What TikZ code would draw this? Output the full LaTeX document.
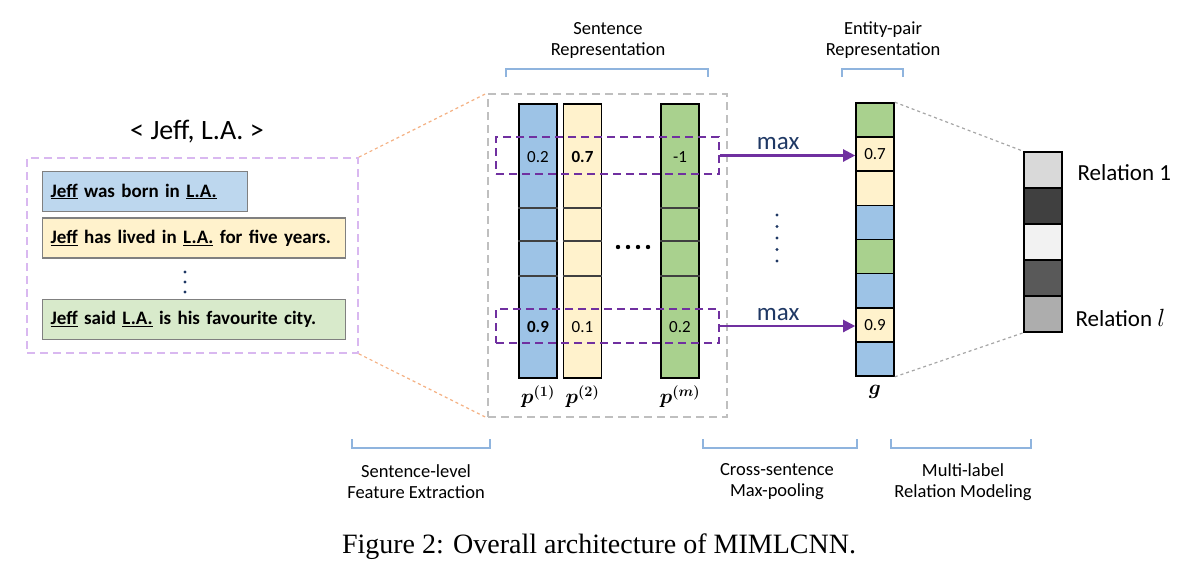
\documentclass[tikz,border=0pt]{standalone}
\usepackage{fontspec}
\usepackage{bm}
\setmainfont{Carlito}
\newfontfamily\capfont{Liberation Serif}
\usetikzlibrary{positioning,arrows.meta}

\definecolor{cblue}{HTML}{9DC3E6}
\definecolor{cyellow}{HTML}{FFF2CC}
\definecolor{cgreen}{HTML}{A9D18E}
\definecolor{sblue}{HTML}{BDD7EE}
\definecolor{sgreen}{HTML}{D8EACB}
\definecolor{mpurple}{HTML}{7030A0}
\definecolor{lavender}{HTML}{D9B8F0}
\definecolor{lorange}{HTML}{F4B183}
\definecolor{brkblue}{HTML}{8FB4DE}
\definecolor{darkblue}{HTML}{1F3864}

\tikzset{
  lbl/.style={font=\fontsize{18.5}{21}\selectfont, align=center},
  sent/.style={draw=gray, line width=1.3pt, anchor=west, inner xsep=8pt, inner ysep=0pt,
    minimum height=40, align=left, font=\fontsize{19}{22}\selectfont\bfseries},
  vec/.style={draw=black, line width=1.6pt, minimum width=38, inner sep=0pt},
  num/.style={font=\fontsize{17}{20}\selectfont},
  rowbox/.style={draw=mpurple, dashed, dash pattern=on 8pt off 5pt, line width=1.8pt, inner sep=0pt},
  maxarr/.style={draw=mpurple, line width=2.2pt, -{Triangle[length=12pt,width=12pt]}},
  brk/.style={draw=brkblue, line width=1.2pt},
}

\begin{document}
\begin{tikzpicture}[x=1pt,y=-1pt]
\useasboundingbox (0,0) rectangle (1188,568);

% sentences of the bag
\node[font=\fontsize{28}{32}\selectfont] (pair) at (197,132) {< Jeff, L.A. >};
\node[draw=lavender, dashed, dash pattern=on 8pt off 5pt, line width=1.8pt,
  minimum width=331, minimum height=195] (bag) at (192.5,255.5) {};
\node[sent, fill=sblue, text width=189] (s1) at (42,191.5) {\underline{Jeff} was born in \underline{L.A.}};
\node[sent, fill=cyellow, text width=287] (s2) at (42,238) {\underline{Jeff} has lived in \underline{L.A.} for five years.};
\node[sent, fill=sgreen, text width=287] (s3) at (42,319.5) {\underline{Jeff} said \underline{L.A.} is his favourite city.};
\foreach \yy in {272,282,292} \fill[darkblue] (185,\yy) circle (1.7);

% sentence representation
\node[draw=black!25, dashed, dash pattern=on 8pt off 5pt, line width=1.8pt,
  minimum width=239, minimum height=323] (feat) at (607.5,255.5) {};
\draw[lorange, dashed, line width=1.2pt] (bag.north east) -- (feat.north west);
\draw[lorange, dashed, line width=1.2pt] (bag.south east) -- (feat.south west);

\node[vec, fill=cblue, minimum height=274] (p1) at (538,241) {};
\node[vec, fill=cyellow, minimum height=274] (p2) at (582.5,241) {};
\node[vec, fill=cgreen, minimum height=274] (pm) at (680,241) {};
\foreach \c in {p1,p2,pm}
  \foreach \yy in {208,241,276}
    \draw[black!75, line width=1.3pt] (\c.west |- 0,\yy) -- (\c.east |- 0,\yy);

\node[num] at (538,157) {0.2};
\node[num] at (582.5,157) {\bfseries 0.7};
\node[num] at (680,157) {-1};
\node[num] at (538,327) {\bfseries 0.9};
\node[num] at (582.5,327) {0.1};
\node[num] at (680,327) {0.2};
\foreach \xx in {618,628,638,648} \fill (\xx,247) circle (2.2);

\node[rowbox, minimum width=223, minimum height=37] (rtop) at (607.5,155.5) {};
\node[rowbox, minimum width=223, minimum height=34] (rbot) at (607.5,326) {};

\node[font=\fontsize{22.5}{26}\selectfont, below=3pt of p1] {$\bm{p^{(1)}}$};
\node[font=\fontsize{22.5}{26}\selectfont, below=3pt of p2] {$\bm{p^{(2)}}$};
\node[font=\fontsize{22.5}{26}\selectfont, below=3pt of pm] {$\bm{p^{(m)}}$};

% entity-pair representation
\foreach [count=\i] \col in {cgreen,cyellow,cyellow,cblue,cgreen,cblue,cyellow,cblue}
  \node[vec, fill=\col, minimum height=34.125] (g\i) at (875,{103+34.125*(\i-0.5)}) {};
\node[num] at (g2) {0.7};
\node[num] at (g7) {0.9};
\node[font=\fontsize{22.5}{26}\selectfont, below=5pt of g8] {$\bm{g}$};

\draw[maxarr] (rtop.east) -- node[pos=0.43, above=1pt, text=darkblue, font=\fontsize{25}{28}\selectfont] {max} (rtop.east -| g2.west);
\draw[maxarr] (rbot.east) -- node[pos=0.43, above=1pt, text=darkblue, font=\fontsize{25}{28}\selectfont] {max} (rbot.east -| g7.west);
\foreach \yy in {215,226.5,238,249.5,261} \fill[darkblue] (777,\yy) circle (1.6);

% relations
\foreach [count=\i] \col in {black!15,black!75,black!5,black!65,black!32}
  \node[vec, fill=\col, minimum height=36] (r\i) at (1043,{152+36*(\i-0.5)}) {};
\draw[black!35, dashed, line width=1.2pt] (g1.north east) -- (r1.north west);
\draw[black!35, dashed, line width=1.2pt] (g8.south east) -- (r5.south west);
\node[font=\fontsize{23}{26}\selectfont, anchor=west] at (1074,173) {Relation 1};
\node[font=\fontsize{23}{26}\selectfont, anchor=west] at (1072,318) {Relation $l$};

% brackets and labels
\draw[brk] (506,77) -- (506,69) -- (708,69) -- (708,77);
\node[lbl] at (608,40) {Sentence\\Representation};
\draw[brk] (842,77) -- (842,69) -- (903,69) -- (903,77);
\node[lbl] at (883,40) {Entity-pair\\Representation};

\draw[brk] (352,439) -- (352,448) -- (490,448) -- (490,439);
\node[lbl] at (416,482) {Sentence-level\\Feature Extraction};
\draw[brk] (703,439) -- (703,448) -- (857,448) -- (857,439);
\node[lbl] at (777,482) {Cross-sentence\\Max-pooling};
\draw[brk] (891,439) -- (891,448) -- (1031,448) -- (1031,439);
\node[lbl] at (963,482) {Multi-label\\Relation Modeling};

\node[font=\capfont\fontsize{28}{32}\selectfont] at (599,547) {Figure 2: Overall architecture of MIMLCNN.};
\end{tikzpicture}
\end{document}
